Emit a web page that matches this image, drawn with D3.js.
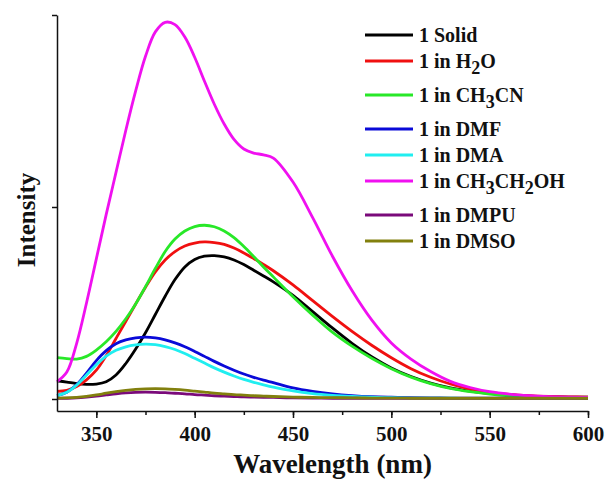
<!DOCTYPE html>
<html>
<head>
<meta charset="utf-8">
<script src="https://cdn.jsdelivr.net/npm/d3@7"></script>
<style>
  body { margin: 0; background: #fff; }
  text { font-family: "Liberation Serif", "Times New Roman", serif; font-weight: bold; }
</style>
</head>
<body>
<script>
// wavelength grid (nm)
const wavelengths = [330, 335, 340, 345, 350, 355, 360, 365, 370, 375, 380, 385, 390, 395, 400, 405, 410, 415, 420, 425, 430, 435, 440, 450, 460, 470, 480, 490, 500, 510, 520, 530, 540, 550, 560, 570, 580, 590, 600];

// intensities (a.u.)
const solid = [95, 88, 80, 76, 78, 90, 125, 185, 260, 345, 440, 535, 622, 688, 727, 744, 747, 740, 724, 700, 671, 641, 610, 540, 455, 370, 290, 220, 162, 117, 83, 58, 41, 29, 21, 15, 12, 10, 9];
const inH2O = [40, 45, 65, 100, 150, 225, 315, 405, 495, 582, 662, 724, 768, 797, 812, 818, 815, 805, 786, 761, 732, 701, 668, 594, 512, 430, 352, 280, 215, 158, 113, 78, 52, 35, 24, 17, 13, 11, 10];
const inCH3CN = [215, 210, 208, 222, 255, 298, 352, 418, 495, 585, 680, 768, 833, 875, 898, 905, 897, 875, 840, 794, 742, 688, 636, 533, 437, 348, 275, 212, 158, 114, 80, 55, 38, 26, 17, 11, 8, 6, 5];
const inDMF = [18, 35, 75, 135, 200, 252, 288, 308, 318, 322, 318, 308, 292, 272, 248, 222, 196, 172, 150, 130, 113, 98, 85, 58, 40, 27, 18, 12, 9, 7, 6, 5, 5, 4, 4, 4, 4, 4, 4];
const inDMA = [18, 35, 72, 125, 178, 223, 254, 272, 282, 286, 283, 273, 258, 237, 212, 187, 162, 140, 120, 102, 87, 74, 62, 42, 28, 19, 13, 9, 7, 5, 4, 4, 3, 3, 3, 3, 3, 3, 3];
const inEtOH = [90, 140, 290, 500, 730, 960, 1180, 1400, 1605, 1785, 1912, 1962, 1950, 1885, 1780, 1655, 1535, 1432, 1352, 1302, 1281, 1272, 1255, 1130, 945, 745, 565, 412, 292, 208, 143, 92, 60, 38, 25, 17, 12, 9, 8];
const inDMPU = [3, 4, 6, 10, 15, 21, 27, 32, 35, 36, 35, 33, 30, 27, 23, 20, 17, 15, 13, 11, 10, 9, 8, 6, 5, 4, 4, 3, 3, 3, 3, 3, 3, 3, 3, 3, 3, 3, 3];
const inDMSO = [5, 6, 9, 14, 21, 30, 38, 45, 50, 53, 54, 53, 50, 46, 41, 36, 31, 27, 23, 20, 17, 15, 13, 10, 8, 7, 6, 5, 5, 4, 4, 4, 4, 4, 4, 4, 4, 4, 4];

const seriesNames = ["1 Solid", "1 in H2O", "1 in CH3CN", "1 in DMF", "1 in DMA", "1 in CH3CH2OH", "1 in DMPU", "1 in DMSO"];
const seriesValues = [solid, inH2O, inCH3CN, inDMF, inDMA, inEtOH, inDMPU, inDMSO];
const seriesColors = ["#000000", "#f01010", "#28e828", "#0a0ad8", "#20eef0", "#f010f0", "#7a0a7a", "#82800e"];

const xTicks = [350, 400, 450, 500, 550, 600];
const xMinorTicks = [350, 375, 400, 425, 450, 475, 500, 525, 550, 575, 600];
const yTicks = [0, 1000, 2000];

const width = 608;
const height = 483;
const plot = { left: 57, right: 588, top: 15, bottom: 411 };

const svg = d3
  .select("body")
  .append("svg")
  .attr("width", width)
  .attr("height", height);

const x = d3.scaleLinear().domain([330, 600]).range([plot.left, plot.right]);
const y = d3.scaleLinear().domain([-62.5, 2000]).range([plot.bottom, plot.top]);

// curves, drawn in legend order
const line = d3
  .line()
  .x((d, i) => x(wavelengths[i]))
  .y((d) => y(d))
  .curve(d3.curveCatmullRom.alpha(0.5));

svg
  .append("g")
  .selectAll("path")
  .data(seriesValues)
  .enter()
  .append("path")
  .attr("d", (d) => line(d))
  .attr("fill", "none")
  .attr("stroke", (d, i) => seriesColors[i])
  .attr("stroke-width", 2.8)
  .attr("stroke-linejoin", "round");

// x axis: minor ticks first, then labelled major ticks
const xAxisG = svg.append("g").attr("transform", `translate(0,${plot.bottom})`);
xAxisG
  .append("g")
  .call(d3.axisBottom(x).tickValues(xMinorTicks).tickSize(4).tickFormat(""))
  .call((g) => g.select(".domain").remove());
xAxisG
  .append("g")
  .call(d3.axisBottom(x).tickValues(xTicks).tickSize(7).tickSizeOuter(0).tickPadding(8))
  .call((g) => g.selectAll("text").attr("font-size", 21).attr("fill", "#111"));
xAxisG.selectAll("line, path").attr("stroke", "#111").attr("stroke-width", 1.5);

// y axis without labels
svg
  .append("g")
  .attr("transform", `translate(${plot.left},0)`)
  .call(d3.axisLeft(y).tickValues(yTicks).tickSize(5).tickSizeOuter(0).tickFormat(""))
  .call((g) => g.selectAll("line, path").attr("stroke", "#111").attr("stroke-width", 1.5));

// axis titles
svg
  .append("text")
  .attr("x", (plot.left + plot.right) / 2 + 10)
  .attr("y", 473)
  .attr("text-anchor", "middle")
  .attr("font-size", 27)
  .attr("fill", "#111")
  .text("Wavelength (nm)");

svg
  .append("text")
  .attr("transform", "translate(35,220) rotate(-90)")
  .attr("text-anchor", "middle")
  .attr("font-size", 25)
  .attr("fill", "#111")
  .text("Intensity");

// legend, digits inside formulas become subscripts
const hasSub = (name) => /[A-Z]\d/.test(name);
let legendY = 35;
const legendRows = seriesNames.map((name, i) => {
  const row = { name, color: seriesColors[i], y: legendY };
  legendY += 26 + (hasSub(name) ? 8 : 0);
  return row;
});

const legend = svg.append("g");
const rows = legend
  .selectAll("g")
  .data(legendRows)
  .enter()
  .append("g")
  .attr("transform", (d) => `translate(365,${d.y})`);

rows
  .append("line")
  .attr("x1", 0)
  .attr("x2", 48)
  .attr("stroke", (d) => d.color)
  .attr("stroke-width", 3);

rows.each(function (d) {
  const t = d3
    .select(this)
    .append("text")
    .attr("x", 54)
    .attr("y", 7)
    .attr("font-size", 20)
    .attr("fill", "#111");
  const parts = d.name.split(/(?<=[A-Z])(\d)/);
  parts.forEach((p, k) => {
    if (!p) return;
    const isSub = k % 2 === 1;
    t.append("tspan")
      .attr("font-size", isSub ? 18 : 20)
      .attr("dy", isSub ? 6 : (k > 0 && parts[k - 1] ? -6 : 0))
      .text(p);
  });
});
</script>
</body>
</html>
